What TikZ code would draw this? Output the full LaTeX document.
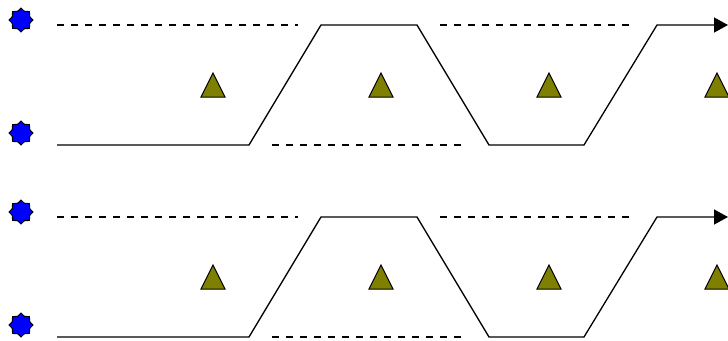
\documentclass[tikz,border=0pt]{standalone}
\usetikzlibrary{shapes.geometric,arrows.meta}
\begin{document}
\begin{tikzpicture}[x=1pt,y=-1pt,
  wave/.style={line width=1.3pt,line join=miter},
  dash line/.style={line width=1.3pt,dash pattern=on 7pt off 7pt},
  starnode/.style={star,star points=8,star point ratio=1.3,minimum size=24pt,inner sep=0pt,draw=black,line width=1pt,fill=blue},
  trinode/.style={draw=black,line width=1pt,fill={rgb,255:red,128;green,128;blue,0}}]
\useasboundingbox (0,0) rectangle (728,340);
\foreach \r/\dy in {a/0,b/192}{
  \begin{scope}[shift={(0,\dy)}]
    \node[starnode] (\r s1) at (21,20) {};
    \node[starnode] (\r s2) at (21,133) {};
    % waveform coordinates
    \coordinate (\r p0) at (57,145);
    \coordinate (\r p1) at (249,145);
    \coordinate (\r p2) at (321,25);
    \coordinate (\r p3) at (417,25);
    \coordinate (\r p4) at (489,145);
    \coordinate (\r p5) at (584,145);
    \coordinate (\r p6) at (657,25);
    \coordinate (\r p7) at (728,25);
    \draw[wave,-{Triangle[length=14pt,width=15pt]}] (\r p0) -- (\r p1) -- (\r p2) -- (\r p3) -- (\r p4) -- (\r p5) -- (\r p6) -- (\r p7);
    % dashed lines
    \coordinate (\r d1) at (57,25);
    \coordinate (\r d2) at (298,25);
    \coordinate (\r d3) at (440,25);
    \coordinate (\r d4) at (631,25);
    \coordinate (\r d5) at (272,145);
    \coordinate (\r d6) at (463,145);
    \draw[dash line] (\r d1) -- (\r d2);
    \draw[dash line] (\r d3) -- (\r d4);
    \draw[dash line] (\r d5) -- (\r d6);
    % triangles
    \foreach \i/\x in {1/213,2/381,3/549,4/717}{
      \coordinate (\r t\i) at (\x,85);
      \draw[trinode] (\r t\i) ++(-12,12) -- ++(24,0) -- ++(-12,-24) -- cycle;
    }
  \end{scope}
}
\end{tikzpicture}
\end{document}
